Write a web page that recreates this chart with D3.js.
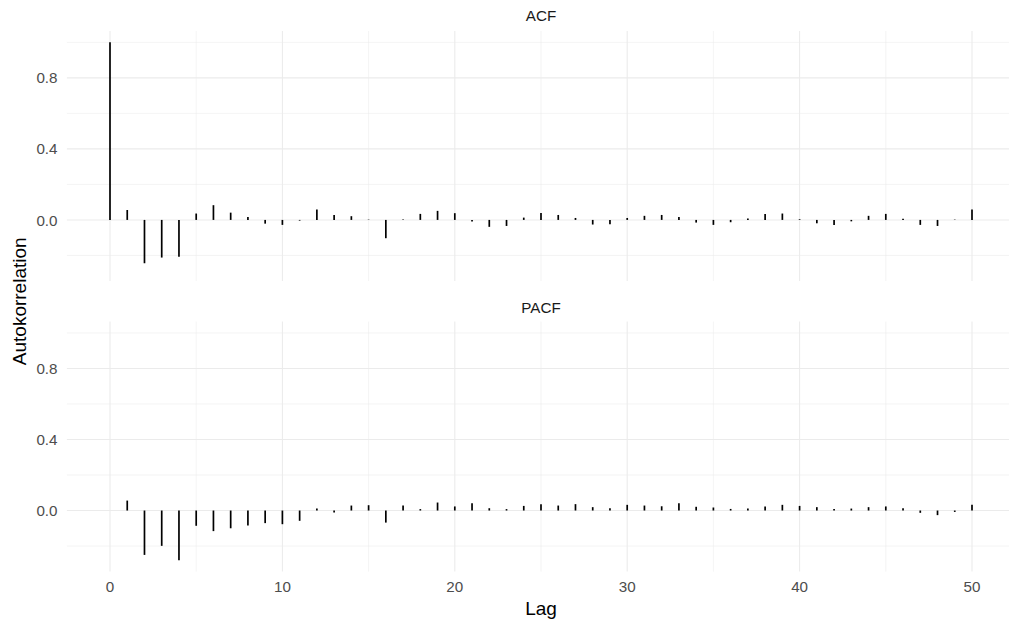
<!DOCTYPE html>
<html><head><meta charset="utf-8">
<script src="https://cdn.jsdelivr.net/npm/d3@7"></script>
<style>body{margin:0;background:#fff}svg{display:block}</style>
</head><body>
<script>
const panels = ["ACF", "PACF"];
const acfLags = d3.range(0, 51);
const acfValues = [1.0, 0.056, -0.244, -0.212, -0.207, 0.036, 0.083, 0.041, 0.017, -0.021,
  -0.028, -0.004, 0.058, 0.028, 0.021, 0.002, -0.103, 0.003, 0.034, 0.051,
  0.038, -0.009, -0.039, -0.034, 0.013, 0.039, 0.028, 0.011, -0.026, -0.024,
  0.011, 0.023, 0.028, 0.017, -0.015, -0.028, -0.013, 0.008, 0.034, 0.036,
  0.004, -0.019, -0.028, -0.008, 0.023, 0.034, 0.006, -0.028, -0.034, 0.002, 0.058];
const pacfLags = d3.range(1, 51);
const pacfValues = [0.056, -0.25, -0.199, -0.28, -0.086, -0.116, -0.1, -0.085, -0.071, -0.077,
  -0.058, 0.011, -0.011, 0.028, 0.030, -0.068, 0.028, 0.008, 0.045, 0.023,
  0.041, 0.013, 0.008, 0.026, 0.036, 0.028, 0.036, 0.019, 0.013, 0.032,
  0.028, 0.024, 0.041, 0.021, 0.017, 0.009, 0.011, 0.023, 0.032, 0.026,
  0.019, 0.009, 0.011, 0.019, 0.023, 0.013, -0.013, -0.026, -0.008, 0.032];
const xMajor = [0, 10, 20, 30, 40, 50];
const xMinor = [5, 15, 25, 35, 45];
const yMajor = [0.0, 0.4, 0.8];
const yMinor = [-0.2, 0.2, 0.6, 1.0];
const yLabels = ["0.0", "0.4", "0.8"];
const xTitle = "Lag";
const yTitle = "Autokorrelation";

const W = 1009, H = 621;
const svg = d3.select("body").append("svg").attr("width", W).attr("height", H);
const font = "Liberation Sans, Arial, sans-serif";
const tickSize = 15.2, titleSize = 19;

const x = d3.scaleLinear().domain([-2.5, 52.5]).range([66.9, 1015.1]);
const panelDefs = [
  {name: panels[0], top: 31, bottom: 281, stripY: 20.6, lags: acfLags, vals: acfValues},
  {name: panels[1], top: 321.6, bottom: 571.6, stripY: 312.6, lags: pacfLags, vals: pacfValues}
];
const yMin = -0.28, yMax = 1.0, pad = (yMax - yMin) * 0.05;

panelDefs.forEach(p => {
  const y = d3.scaleLinear().domain([yMin - pad, yMax + pad]).range([p.bottom, p.top]);
  const g = svg.append("g");
  g.selectAll(".ymin").data(yMinor).join("line")
    .attr("x1", x.range()[0]).attr("x2", x.range()[1])
    .attr("y1", d => y(d)).attr("y2", d => y(d))
    .attr("stroke", "#ebebeb").attr("stroke-width", 0.53);
  g.selectAll(".xmin").data(xMinor).join("line")
    .attr("x1", d => x(d)).attr("x2", d => x(d))
    .attr("y1", p.top).attr("y2", p.bottom)
    .attr("stroke", "#ebebeb").attr("stroke-width", 0.53);
  g.selectAll(".ymaj").data(yMajor).join("line")
    .attr("x1", x.range()[0]).attr("x2", x.range()[1])
    .attr("y1", d => y(d)).attr("y2", d => y(d))
    .attr("stroke", "#ebebeb").attr("stroke-width", 1.07);
  g.selectAll(".xmaj").data(xMajor).join("line")
    .attr("x1", d => x(d)).attr("x2", d => x(d))
    .attr("y1", p.top).attr("y2", p.bottom)
    .attr("stroke", "#ebebeb").attr("stroke-width", 1.07);
  g.selectAll(".yl").data(yMajor).join("text")
    .attr("x", 57.5).attr("y", d => y(d) + 5.6)
    .attr("text-anchor", "end").attr("font-family", font).attr("font-size", tickSize)
    .attr("fill", "#4d4d4d").text((d, i) => yLabels[i]);
  g.append("text").attr("x", (x.range()[0] + x.range()[1]) / 2).attr("y", p.stripY)
    .attr("text-anchor", "middle").attr("font-family", font).attr("font-size", tickSize)
    .attr("fill", "#1a1a1a").text(p.name);
  g.selectAll(".seg").data(p.lags.map((l, i) => [l, p.vals[i]])).join("line")
    .attr("x1", d => x(d[0])).attr("x2", d => x(d[0]))
    .attr("y1", y(0)).attr("y2", d => y(d[1]))
    .attr("stroke", "#000").attr("stroke-width", 1.7);
});

svg.selectAll(".xl").data(xMajor).join("text")
  .attr("x", d => x(d)).attr("y", 591.7)
  .attr("text-anchor", "middle").attr("font-family", font).attr("font-size", tickSize)
  .attr("fill", "#4d4d4d").text(d => String(d));

svg.append("text").attr("x", (x.range()[0] + x.range()[1]) / 2).attr("y", 615)
  .attr("text-anchor", "middle").attr("font-family", font).attr("font-size", titleSize)
  .attr("fill", "#000").text(xTitle);

svg.append("text").attr("transform", "translate(25.5," + ((31 + 571.6) / 2) + ") rotate(-90)")
  .attr("text-anchor", "middle").attr("font-family", font).attr("font-size", titleSize)
  .attr("fill", "#000").text(yTitle);
</script>
</body></html>
